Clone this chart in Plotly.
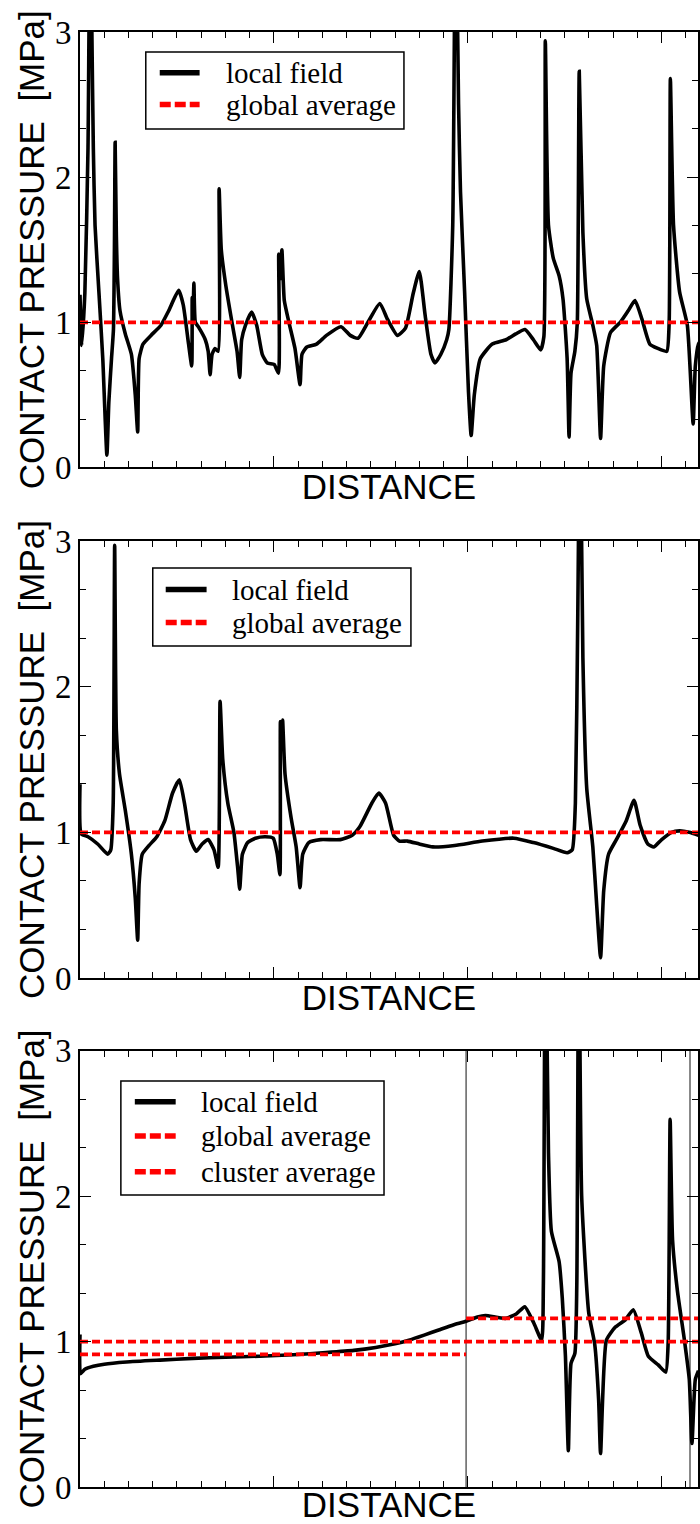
import plotly.graph_objects as go
from plotly.subplots import make_subplots

# ---------------- data (distance in minor-tick units, pressure in MPa) ----------------
p1_x = [0.00, 0.07, 0.20, 0.33, 0.42, 0.49, 0.55, 0.62, 0.78, 0.94, 1.11, 1.19, 1.30, 1.38, 1.42, 1.45,
        1.50, 1.55, 1.65, 1.87, 2.12, 2.28, 2.38, 2.44, 2.60, 2.93, 3.34, 3.66, 4.07, 4.26, 4.48, 4.61,
        4.63, 4.66, 4.70, 4.76, 4.88, 5.17, 5.29, 5.37, 5.45, 5.57, 5.70, 5.74, 5.83, 6.02, 6.27, 6.48,
        6.59, 6.67, 6.83, 7.08, 7.29, 7.52, 7.73, 8.01, 8.19, 8.20, 8.27, 8.33, 8.43, 8.62, 8.87, 9.08,
        9.16, 9.36, 9.76, 10.17, 10.77, 11.15, 11.47, 11.88, 12.37, 12.69, 13.10, 13.43, 13.75, 14.00,
        14.24, 14.48, 14.65, 14.89, 15.13, 15.22, 15.38, 15.50, 15.62, 15.70, 15.87, 16.03, 16.14, 16.27,
        16.52, 17.01, 17.58, 17.98, 18.36, 18.71, 19.01, 19.14, 19.20, 19.33, 19.53, 19.77, 19.93, 20.10,
        20.18, 20.26, 20.42, 20.52, 20.60, 20.75, 20.91, 21.16, 21.32, 21.48, 21.61, 21.89, 22.29, 22.62,
        22.90, 23.19, 23.51, 23.84, 24.21, 24.31, 24.36, 24.49, 24.74, 25.06, 25.30, 25.39, 25.52, 25.71]
p1_y = [1.19, 0.84, 1.20, 2.20, 4.00, 3.00, 2.20, 1.67, 1.21, 0.75, 0.085, 0.45, 0.75, 0.95, 1.50, 2.24,
        1.60, 1.30, 1.08, 0.92, 0.78, 0.50, 0.245, 0.75, 0.85, 0.91, 0.98, 1.08, 1.22, 1.12, 0.85, 0.70,
        1.17, 1.00, 1.27, 1.00, 0.97, 0.88, 0.80, 0.64, 0.78, 0.82, 0.80, 1.92, 1.50, 1.25, 1.00, 0.80,
        0.62, 0.88, 0.98, 1.07, 0.98, 0.78, 0.72, 0.71, 0.65, 1.47, 1.30, 1.50, 1.15, 1.00, 0.82, 0.57,
        0.78, 0.83, 0.85, 0.91, 0.97, 0.91, 0.89, 1.00, 1.13, 1.02, 0.91, 0.96, 1.20, 1.35,
        1.05, 0.78, 0.72, 0.78, 0.88, 0.95, 1.67, 4.00, 2.50, 1.90, 1.21, 0.52, 0.22, 0.50,
        0.75, 0.85, 0.88, 0.92, 0.95, 0.88, 0.81, 0.90, 2.94, 1.67, 1.44, 1.32, 1.16, 0.75,
        0.21, 0.65, 0.80, 1.00, 2.73, 1.62, 1.16, 0.98, 0.84, 0.20, 0.70, 0.93, 1.00, 1.08,
        1.15, 1.02, 0.85, 0.82, 0.80, 1.00, 2.68, 1.67, 1.21, 0.98, 0.30, 0.70, 0.85, 0.90]

p2_x = [0.00, 0.05, 0.33, 0.73, 1.14, 1.27, 1.37, 1.43, 1.50, 1.63, 1.87, 2.12, 2.28, 2.38, 2.44, 2.57,
        2.85, 3.17, 3.50, 3.82, 4.10, 4.31, 4.56, 4.80, 5.04, 5.29, 5.53, 5.70, 5.78, 5.89, 6.10, 6.35,
        6.51, 6.59, 6.70, 6.92, 7.24, 7.65, 7.97, 8.14, 8.25, 8.27, 8.33, 8.36, 8.46, 8.71, 8.92, 9.08,
        9.19, 9.44, 9.93, 10.74, 11.23, 11.55, 12.04, 12.33, 12.61, 12.94, 13.18, 13.51, 14.00, 14.56,
        15.46, 16.60, 17.90, 18.71, 19.53, 20.10, 20.31, 20.44, 20.54, 20.63, 20.75, 20.91, 21.16, 21.32,
        21.48, 21.61, 21.81, 22.13, 22.54, 22.86, 23.11, 23.43, 23.68, 24.00, 24.41, 24.74, 25.14, 25.52]
p2_y = [1.33, 0.99, 0.97, 0.92, 0.85, 0.88, 1.20, 2.97, 1.70, 1.40, 1.15, 0.85, 0.55, 0.26, 0.65, 0.85,
        0.91, 0.97, 1.08, 1.27, 1.36, 1.20, 0.95, 0.87, 0.92, 0.95, 0.88, 0.76, 1.90, 1.50, 1.20, 1.00,
        0.75, 0.61, 0.85, 0.93, 0.96, 0.97, 0.96, 0.85, 0.71, 1.76, 1.60, 1.77, 1.40, 1.10, 0.90, 0.62,
        0.85, 0.93, 0.95, 0.95, 0.98, 1.04, 1.20, 1.27, 1.20, 0.98, 0.94, 0.94, 0.92, 0.90,
        0.91, 0.94, 0.96, 0.93, 0.89, 0.86, 0.88, 1.20, 2.50, 4.00, 2.20, 1.30, 0.90, 0.50,
        0.14, 0.60, 0.85, 0.95, 1.08, 1.22, 1.05, 0.92, 0.90, 0.95, 1.00, 1.01, 1.00, 0.98]

p3_x = [0.00, 0.02, 0.20, 0.55, 1.00, 1.92, 3.30, 4.66, 6.00, 7.40, 8.80, 10.15, 11.30, 12.20, 13.00,
        13.57, 14.20, 14.80, 15.40, 15.93, 16.40, 16.73, 17.55, 18.00, 18.35, 18.72, 19.05, 19.12, 19.20,
        19.33, 19.45, 19.77, 19.90, 20.03, 20.15, 20.26, 20.42, 20.50, 20.58, 20.70, 20.99, 21.24, 21.40,
        21.48, 21.72, 22.09, 22.50, 22.83, 23.16, 23.45, 23.86, 24.17, 24.27, 24.35, 24.45, 24.65, 24.94,
        25.14, 25.25, 25.39, 25.52]
p3_y = [1.05, 0.78, 0.81, 0.83, 0.845, 0.86, 0.873, 0.885, 0.893, 0.90, 0.91, 0.925, 0.94, 0.96, 0.985,
        1.01, 1.045, 1.08, 1.115, 1.14, 1.17, 1.18, 1.16, 1.19, 1.24, 1.13, 1.01, 1.40, 4.00,
        2.30, 1.76, 1.55, 1.30, 0.90, 0.25, 0.85, 0.92, 1.40, 4.00, 2.00, 1.20, 0.98, 0.60,
        0.23, 1.01, 1.10, 1.15, 1.22, 1.06, 0.90, 0.84, 0.79, 1.00, 2.53, 1.70, 1.35, 1.01,
        0.74, 0.30, 0.74, 0.80]

global_avg = [1.0, 1.0, 1.0]
x_range = [0, 25.5]
cluster_edges = [0.0, 15.93, 25.5]
cluster_avg = [0.913, 1.16]
cluster_bounds = [15.93, 25.17]

legend_labels = [["local field", "global average"],
                 ["local field", "global average"],
                 ["local field", "global average", "cluster average"]]

# ---------------- styling / layout geometry (pixels) ----------------
W, H = 700, 1524
ML, MR, MT, MB = 80, 0, 32, 37
SERIF = "Liberation Serif, Times New Roman, serif"
SANS = "Liberation Sans, Arial, Helvetica, sans-serif"
BLACK_W = 3.6
RED_W = 3.8
RED_DASH = "8px,4px"

# legend boxes: (left, top, right, bottom), row centres, sample start/end, text start
legend_geo = [
    dict(box=(146, 52, 405, 129), rows=[72.7, 104.5], sx=(160, 200), tx=225),
    dict(box=(153, 568, 412, 646), rows=[589.5, 622.5], sx=(166, 207), tx=231),
    dict(box=(121, 1081, 385, 1195), rows=[1101.7, 1136.0, 1171.7], sx=(135, 176), tx=200),
]


def px_x(p):
    return (p - ML) / (W - ML - MR)


def px_y(p):
    return 1 - (p - MT) / (H - MT - MB)


fig = make_subplots(rows=3, cols=1)

panels = [(p1_x, p1_y), (p2_x, p2_y), (p3_x, p3_y)]
for i, (px, py) in enumerate(panels):
    row = i + 1
    if row == 3:
        for b in cluster_bounds:
            fig.add_trace(go.Scatter(x=[b, b], y=[0, 3], mode="lines",
                                     line=dict(color="#111111", width=1),
                                     showlegend=False, hoverinfo="skip"), row=row, col=1)
    fig.add_trace(go.Scatter(x=px, y=py, mode="lines", name="local field",
                             line=dict(color="black", width=BLACK_W, shape="spline", smoothing=0.5),
                             showlegend=False), row=row, col=1)
    fig.add_trace(go.Scatter(x=x_range, y=[global_avg[i]] * 2, mode="lines", name="global average",
                             line=dict(color="#ff0000", width=RED_W, dash=RED_DASH),
                             showlegend=False), row=row, col=1)
    if row == 3:
        cx, cy = [], []
        for k, v in enumerate(cluster_avg):
            cx += [cluster_edges[k], cluster_edges[k + 1], None]
            cy += [v, v, None]
        fig.add_trace(go.Scatter(x=cx, y=cy, mode="lines", name="cluster average",
                                 line=dict(color="#ff0000", width=RED_W, dash=RED_DASH),
                                 showlegend=False), row=row, col=1)

domains = [[0.7007, 1.0], [0.3498, 0.6502], [0.0, 0.2997]]
for r in range(1, 4):
    fig.update_xaxes(row=r, col=1, range=x_range, domain=[0, 1],
                     showline=True, linecolor="black", linewidth=2, mirror="ticks",
                     ticks="inside", ticklen=11, tickwidth=1.3, tickcolor="black",
                     tick0=0, dtick=8, showticklabels=False, showgrid=False, zeroline=False,
                     minor=dict(dtick=1, ticks="inside", ticklen=6, tickwidth=1, tickcolor="black",
                                showgrid=False),
                     title=dict(text="DISTANCE", font=dict(family=SANS, size=35, color="black"),
                                standoff=6))
    fig.update_yaxes(row=r, col=1, range=[0, 3], domain=domains[r - 1],
                     showline=True, linecolor="black", linewidth=2, mirror="ticks",
                     ticks="inside", ticklen=11, tickwidth=1.3, tickcolor="black",
                     tick0=0, dtick=1, showgrid=False, zeroline=False,
                     tickfont=dict(family=SERIF, size=33, color="black"),
                     minor=dict(dtick=1 / 3, ticks="inside", ticklen=6, tickwidth=1, tickcolor="black",
                                showgrid=False),
                     title=dict(text="CONTACT PRESSURE  [MPa]",
                                font=dict(family=SANS, size=35, color="black"), standoff=0))

# ---------------- hand-drawn legends (one per panel) ----------------
shapes, annotations = [], []
for geo, labels in zip(legend_geo, legend_labels):
    l, t, rr, b = geo["box"]
    shapes.append(dict(type="rect", xref="paper", yref="paper",
                       x0=px_x(l), x1=px_x(rr), y0=px_y(b), y1=px_y(t),
                       line=dict(color="black", width=1.5), fillcolor="white", layer="above"))
    for yc, lab in zip(geo["rows"], labels):
        if lab == "local field":
            ln = dict(color="black", width=5.5)
        else:
            ln = dict(color="#ff0000", width=5.5, dash="11px,4px")
        shapes.append(dict(type="line", xref="paper", yref="paper",
                           x0=px_x(geo["sx"][0]), x1=px_x(geo["sx"][1]),
                           y0=px_y(yc), y1=px_y(yc), line=ln, layer="above"))
        annotations.append(dict(text=lab, xref="paper", yref="paper",
                                x=px_x(geo["tx"]), y=px_y(yc), xanchor="left", yanchor="middle",
                                showarrow=False, borderpad=0,
                                font=dict(family=SERIF, size=29, color="black")))

fig.update_layout(
    width=W, height=H,
    margin=dict(l=ML, r=MR, t=MT, b=MB),
    paper_bgcolor="white", plot_bgcolor="white",
    showlegend=False,
    shapes=shapes, annotations=annotations,
)

fig.write_html("out.html")
